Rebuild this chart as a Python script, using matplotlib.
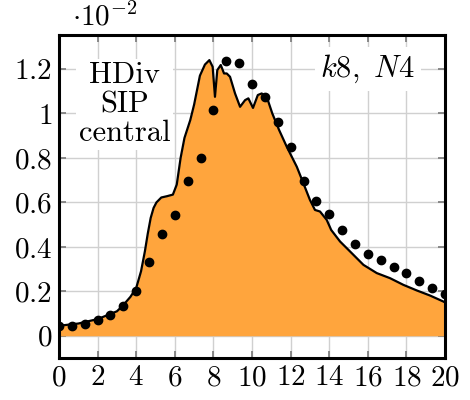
import matplotlib
matplotlib.use('Agg')
import matplotlib.pyplot as plt
from matplotlib.ticker import FuncFormatter, MultipleLocator

plt.rcParams['font.family'] = 'serif'
plt.rcParams['font.serif'] = ['cmr10']
plt.rcParams['mathtext.fontset'] = 'cm'
plt.rcParams['axes.formatter.use_mathtext'] = True

# values in units of 1e-2
line_x = [0, 1, 2, 3, 3.3, 3.7, 4.0, 4.25, 4.45, 4.6, 4.75, 4.9, 5.05, 5.3, 5.6,
          5.9, 6.1, 6.3, 6.5, 6.8, 7.0, 7.3, 7.56, 7.79, 7.96, 8.08, 8.2, 8.38,
          8.55, 8.69, 8.86, 9.12, 9.38, 9.64, 9.81, 10.05, 10.3, 10.5, 10.76,
          11.05, 11.4, 11.8, 12.32, 12.66, 13.0, 13.26, 13.52, 13.87, 14.1,
          14.56, 15.08, 15.77, 16.46, 17.15, 17.84, 18.53, 19.22, 19.91, 20]
line_y = [0.045, 0.055, 0.075, 0.11, 0.135, 0.175, 0.215, 0.29, 0.38, 0.46,
          0.53, 0.575, 0.60, 0.622, 0.628, 0.635, 0.68, 0.80, 0.89, 0.97, 1.04,
          1.17, 1.22, 1.24, 1.21, 1.075, 1.195, 1.218, 1.18, 1.18, 1.165, 1.09,
          1.03, 1.06, 1.068, 1.025, 1.083, 1.09, 1.075, 1.0, 0.926, 0.85, 0.76,
          0.686, 0.611, 0.566, 0.559, 0.521, 0.476, 0.424, 0.379, 0.319, 0.282,
          0.259, 0.229, 0.204, 0.181, 0.154, 0.150]

dot_x = [k * 2 / 3 for k in range(31)]
dot_y = [0.045, 0.045, 0.054, 0.069, 0.094, 0.132, 0.202, 0.334, 0.46, 0.545,
         0.695, 0.80, 1.016, 1.236, 1.228, 1.131, 1.073, 0.96, 0.849, 0.697,
         0.607, 0.548, 0.478, 0.412, 0.367, 0.340, 0.311, 0.282, 0.247, 0.213,
         0.190]

fig = plt.figure(figsize=(4.7, 4.0), dpi=100)
ax = fig.add_axes([0.1255, 0.105, 0.8215, 0.8075])

ax.fill_between(line_x, 0, line_y, color='#ffa53d', linewidth=0, zorder=2)
ax.plot(line_x, line_y, color='black', linewidth=1.6, zorder=3)
ax.plot(dot_x, dot_y, 'o', color='black', markersize=6, zorder=4)

ax.set_xlim(0, 20)
ax.set_ylim(-0.1, 1.353)
ax.xaxis.set_major_locator(MultipleLocator(2))
ax.yaxis.set_major_locator(MultipleLocator(0.2))
ax.yaxis.set_major_formatter(FuncFormatter(lambda v, p: '$%g$' % round(v, 2)))
ax.xaxis.set_major_formatter(FuncFormatter(lambda v, p: '$%g$' % round(v, 2)))

ax.grid(True, color='#d0d0d0', linewidth=1.0, zorder=0)
ax.set_axisbelow(True)
ax.tick_params(direction='in', length=5, width=1.3, color='#808080',
               top=True, right=True, labelsize=21, pad=5)
for s in ax.spines.values():
    s.set_linewidth(2.2)
    s.set_zorder(5)

ax.text(3.4, 1.04, 'HDiv\nSIP\ncentral', ha='center', va='center',
        fontsize=22, linespacing=1.08,
        bbox=dict(facecolor='white', edgecolor='none', pad=2), zorder=6)
ax.text(16.0, 1.2, r'$k8,\ N4$', ha='center', va='center', fontsize=22,
        bbox=dict(facecolor='white', edgecolor='none', pad=4), zorder=6)

fig.text(0.153, 0.958, r'$\cdot 10^{-2}$', ha='left', va='center', fontsize=21)

fig.savefig('out.png', dpi=100)
